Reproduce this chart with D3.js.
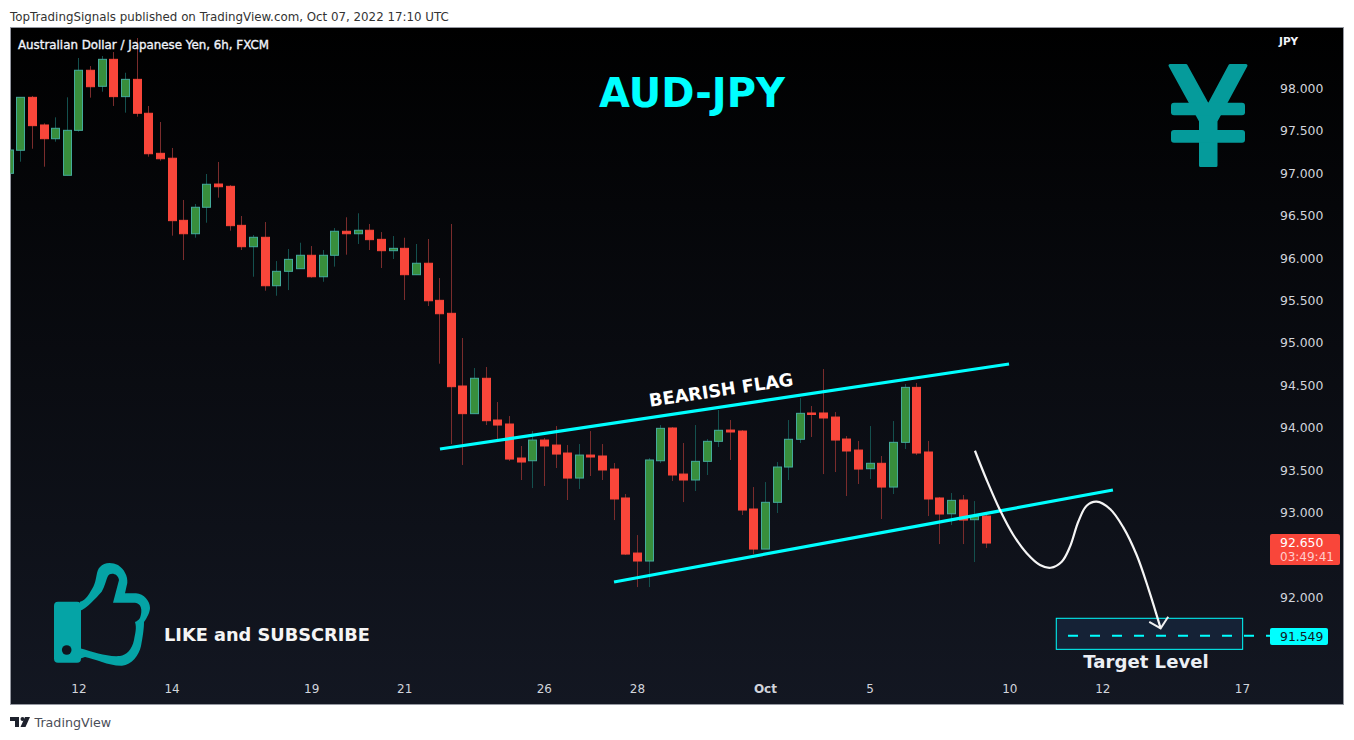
<!DOCTYPE html>
<html><head><meta charset="utf-8">
<style>
html,body{margin:0;padding:0;background:#fff;overflow:hidden}
svg{display:block}
text{font-family:"DejaVu Sans",sans-serif}
</style>
<script src="https://cdn.jsdelivr.net/npm/d3@7/dist/d3.min.js"></script>
</head><body><svg id="c" width="1354" height="740"></svg>
<script>
// candle values, one entry per 6h bar (first bar is index -1)
const opens=[97.000,97.272,97.896,97.570,97.408,96.977,97.507,98.215,98.026,98.344,97.904,98.108,97.708,97.236,97.178,96.446,96.288,96.600,96.874,96.847,96.387,96.135,96.246,95.675,95.845,95.876,96.034,95.781,96.034,96.317,96.288,96.329,96.222,96.088,96.116,95.805,95.940,95.503,95.350,94.493,94.167,94.584,94.092,94.045,93.644,93.612,93.856,93.797,93.703,93.408,93.679,93.668,93.514,93.173,92.524,92.430,93.612,93.998,93.455,93.385,93.605,93.841,93.974,93.962,93.043,92.571,93.122,93.538,93.865,94.175,94.175,94.127,93.868,93.738,93.518,93.582,93.302,93.829,94.477,93.715,93.173,92.987,93.149,92.917,92.960];
const highs=[97.280,97.900,97.912,97.590,97.660,97.896,98.360,98.265,98.383,98.430,98.186,98.595,97.794,97.605,97.299,96.686,96.639,96.992,97.134,96.862,96.497,96.273,96.426,95.966,96.108,96.182,96.143,96.096,96.355,96.482,96.529,96.403,96.308,96.261,96.241,96.167,96.226,95.766,96.403,95.059,94.705,94.717,94.304,94.139,93.786,93.962,93.880,94.021,93.797,93.809,93.962,93.809,93.585,93.220,92.736,93.644,94.033,94.009,93.821,94.033,93.868,94.210,94.092,93.974,93.302,93.361,93.597,94.092,94.351,94.257,94.693,94.186,93.903,93.845,94.021,93.668,94.080,94.516,94.528,93.845,93.184,93.232,93.208,93.137,93.007];
const lows=[97.000,97.137,97.290,97.078,97.373,96.977,97.491,97.892,97.962,97.794,97.715,97.668,97.196,97.149,96.265,95.978,96.241,96.418,96.713,96.324,96.096,95.781,95.616,95.557,95.624,95.876,95.770,95.722,95.900,96.041,96.167,96.096,95.884,95.990,95.507,95.805,95.436,94.756,93.809,93.562,94.167,94.033,93.848,93.609,93.385,93.290,93.314,93.526,93.149,93.279,93.432,93.385,92.913,92.501,92.123,92.123,93.585,93.373,93.125,93.255,93.444,93.774,93.621,92.972,92.512,92.571,92.996,93.385,93.821,93.892,93.455,93.479,93.196,93.338,93.397,92.925,93.220,93.750,93.679,92.960,92.630,92.854,92.630,92.418,92.583];
const closes=[97.275,97.896,97.562,97.408,97.531,97.507,98.215,98.021,98.344,97.904,98.108,97.708,97.231,97.172,96.442,96.288,96.600,96.871,96.842,96.383,96.135,96.246,95.675,95.845,95.986,96.034,95.781,96.034,96.317,96.288,96.329,96.218,96.088,96.116,95.805,95.940,95.498,95.345,94.485,94.167,94.584,94.084,94.033,93.632,93.597,93.856,93.786,93.691,93.408,93.679,93.656,93.503,93.161,92.512,92.430,93.621,93.994,93.444,93.385,93.605,93.841,93.971,93.951,93.031,92.571,93.122,93.538,93.865,94.171,94.163,94.116,93.856,93.727,93.514,93.582,93.302,93.829,94.477,93.703,93.161,92.984,93.145,92.913,92.960,92.642];
const firstIndex=-1;

const priceTicks=[98,97.5,97,96.5,96,95.5,95,94.5,94,93.5,93,92];
const timeTickIndex=[5,13,25,33,45,53,64,73,85,93,105];
const timeTickLabels=["12","14","19","21","26","28","Oct","5","10","12","17"];

// drawings, in bar index and price
const upperIdx=[36.07,84.98], upperPrice=[93.750,94.752];
const lowerIdx=[51.03,93.91], lowerPrice=[92.183,93.267];
const pathIdx=[82.05,83.06,84.20,85.35,86.50,87.64,88.56,89.51,90.22,90.93,91.65,92.51,93.66,94.80,95.95,96.95,98.01];
const pathPrice=[93.730,93.385,93.031,92.737,92.521,92.383,92.351,92.422,92.599,92.893,93.082,93.129,93.043,92.827,92.501,92.108,91.637];
const headIdx=[97.03,98.01,98.66], headPrice=[91.714,91.637,91.773];
const targetPrice=91.549, lastPrice=92.650;
const boxIdx=[89.04,105.06], boxPrice=[91.755,91.389];
const dashStartIdx=90.05;

const svg=d3.select("#c");
const defs=svg.append("defs");
const g=defs.append("linearGradient").attr("id","bg").attr("x1",0).attr("x2",0).attr("y1",0).attr("y2",1);
g.append("stop").attr("offset","0").attr("stop-color","#000000");
g.append("stop").attr("offset","1").attr("stop-color","#131722");
defs.append("clipPath").attr("id","plot").append("rect").attr("x",10.5).attr("y",27.5).attr("width",1333).attr("height",677);

const x=d3.scaleLinear().domain([0,83]).range([20.3,986]);
const y=d3.scaleLinear().domain([92,98]).range([597.5,88.5]);

// header
svg.append("text").attr("x",10).attr("y",21).attr("font-size",11.85).attr("fill","#333").text("TopTradingSignals published on TradingView.com, Oct 07, 2022 17:10 UTC");

svg.append("rect").attr("x",10.5).attr("y",27.5).attr("width",1333).attr("height",677).attr("fill","url(#bg)").attr("stroke","#9598a1");

const plot=svg.append("g").attr("clip-path","url(#plot)");
const bars=d3.range(opens.length).map(i=>({i:i+firstIndex,o:opens[i],h:highs[i],l:lows[i],c:closes[i]}));
const up=d=>d.c>=d.o;
plot.selectAll("line.wick").data(bars).join("line").attr("class","wick")
 .attr("x1",d=>Math.round(x(d.i))+.5).attr("x2",d=>Math.round(x(d.i))+.5)
 .attr("y1",d=>y(d.h)).attr("y2",d=>y(d.l))
 .attr("stroke",d=>up(d)?"#14504e":"#7a2c2c");
plot.selectAll("rect.body").data(bars).join("rect").attr("class","body")
 .attr("x",d=>Math.round(x(d.i))-3.5).attr("width",8)
 .attr("y",d=>y(Math.max(d.o,d.c))).attr("height",d=>Math.max(1.5,Math.abs(y(d.o)-y(d.c))))
 .attr("fill",d=>up(d)?"#388e3c":"#f9463a")
 .attr("stroke",d=>up(d)?"#44ab9b":"#f9463a");

// drawings
const line2=(xs,ps,w)=>plot.append("line").attr("x1",x(xs[0])).attr("y1",y(ps[0])).attr("x2",x(xs[1])).attr("y2",y(ps[1])).attr("stroke","#00ffff").attr("stroke-width",w);
line2(upperIdx,upperPrice,3.2);
line2(lowerIdx,lowerPrice,3.2);

const a=x(upperIdx[1])-x(upperIdx[0]), b=y(upperPrice[1])-y(upperPrice[0]);
const ang=Math.atan2(b,a)*180/Math.PI;
svg.append("text").attr("transform",`translate(722,396) rotate(${ang})`).attr("text-anchor","middle")
 .attr("font-size",17.8).attr("font-weight","bold").attr("fill","#fff").text("BEARISH FLAG");

plot.append("rect").attr("x",x(boxIdx[0])).attr("y",y(boxPrice[0])).attr("width",x(boxIdx[1])-x(boxIdx[0])).attr("height",y(boxPrice[1])-y(boxPrice[0]))
 .attr("fill","#152236").attr("stroke","#00ffff");
plot.append("line").attr("x1",x(dashStartIdx)).attr("x2",1270).attr("y1",y(targetPrice)).attr("y2",y(targetPrice))
 .attr("stroke","#00ffff").attr("stroke-width",2).attr("stroke-dasharray","10 12");

const curve=d3.line().x(d=>x(d[0])).y(d=>y(d[1])).curve(d3.curveCatmullRom.alpha(.5));
plot.append("path").attr("d",curve(pathIdx.map((v,i)=>[v,pathPrice[i]]))).attr("fill","none").attr("stroke","#f5f5f5").attr("stroke-width",2.2);
plot.append("path").attr("d",d3.line().x(d=>x(d[0])).y(d=>y(d[1]))(headIdx.map((v,i)=>[v,headPrice[i]]))).attr("fill","none").attr("stroke","#f0f0f0").attr("stroke-width",2);

svg.append("text").attr("x",1146).attr("y",668).attr("text-anchor","middle").attr("font-size",18.1).attr("font-weight","bold").attr("fill","#eceff4").text("Target Level");
svg.append("text").attr("x",692).attr("y",107).attr("text-anchor","middle").attr("font-size",40).attr("font-weight","bold").attr("fill","#00ffff").text("AUD-JPY");
svg.append("text").attr("x",164).attr("y",640.5).attr("font-size",17.75).attr("font-weight","bold").attr("fill","#f5f5f5").text("LIKE and SUBSCRIBE");
svg.append("text").attr("x",18).attr("y",49).attr("font-size",11.85).attr("fill","#f0f3fa").attr("stroke","#f0f3fa").attr("stroke-width",.35).text("Australian Dollar / Japanese Yen, 6h, FXCM");

// yen icon
const teal="#059b9b";
const yen=svg.append("g").attr("fill",teal);
yen.append("path").attr("stroke",teal).attr("stroke-width",3).attr("stroke-linejoin","round")
 .attr("d","M1170,65.5L1186,65.5L1208.3,106L1230,65.5L1246,65.5L1216,121L1216,165.5L1200.5,165.5L1200.5,121Z");
yen.append("rect").attr("x",1171).attr("y",102.7).attr("width",74).attr("height",12.6).attr("rx",3);
yen.append("rect").attr("x",1171).attr("y",130).attr("width",74).attr("height",12.7).attr("rx",3);

// thumb icon
const thumbColor="#05a4a6";
svg.append("path").attr("fill-rule","evenodd").attr("fill",thumbColor).attr("d",
 "M80,601.7C86,601 90,592 93.3,586.7C97,580 96,570 100,567C104,562 112,562 118,565C124,569 128,576 127.3,583L125,593.3L136,593.3C144,594 150,601 150,608C150,612 147,618 144,622C144,628 143,635 141,646C139,655 132,665 122,665.7C108,666 96,659 85,657L79,659Z"+
 "M80,610.7C86,609 96,598 101.7,591.7C105,586 106,580 108,576C110,572 118,573 119,580L113,602.7L135,602.7C141,603 143,610 140,618C138,621 135,622 135,622C137,628 135,634 134,640C132,650 126,655 120,656C106,657 94,652 80,648.3Z");
svg.append("rect").attr("x",54).attr("y",601.7).attr("width",27).attr("height",61).attr("rx",4).attr("fill",thumbColor);
svg.append("circle").attr("cx",66.7).attr("cy",650).attr("r",4.8).attr("fill","#10141d");

// axes
const yAxis=d3.axisRight(y).tickValues(priceTicks).tickSize(0).tickPadding(0).tickFormat(d3.format(".3f"));
const ya=svg.append("g").attr("transform","translate(1280,0)").call(yAxis);
ya.select(".domain").remove();
ya.selectAll("text").attr("font-size",12.4).attr("fill","#d1d4dc").attr("font-family","'DejaVu Sans',sans-serif");
svg.append("text").attr("x",1279).attr("y",44.5).attr("font-size",10.5).attr("font-weight","bold").attr("fill","#f0f3fa").text("JPY");

const xAxis=d3.axisBottom(x).tickValues(timeTickIndex).tickSize(0).tickPadding(0).tickFormat((d,i)=>timeTickLabels[i]);
const xa=svg.append("g").attr("transform","translate(0,684)").call(xAxis);
xa.select(".domain").remove();
xa.selectAll("text").attr("font-size",12).attr("fill","#d1d4dc").attr("font-family","'DejaVu Sans',sans-serif")
 .attr("font-weight",(d,i)=>timeTickLabels[i]==="Oct"?"bold":"normal");

// price labels
svg.append("rect").attr("x",1270).attr("y",534).attr("width",70).attr("height",31).attr("rx",2).attr("fill","#f9463a");
svg.append("text").attr("x",1280).attr("y",547).attr("font-size",12.4).attr("fill","#fff").text(lastPrice.toFixed(3));
svg.append("text").attr("x",1280).attr("y",561).attr("font-size",12).attr("fill","#fcc").text("03:49:41");
svg.append("rect").attr("x",1270).attr("y",628).attr("width",58).attr("height",17).attr("rx",2).attr("fill","#00ffff");
svg.append("text").attr("x",1280).attr("y",641).attr("font-size",12.4).attr("fill","#131722").text(targetPrice.toFixed(3));

// footer
const logo=svg.append("g").attr("fill","#1e222d");
logo.append("path").attr("d","M10,717H19V727H15V721H10Z");
logo.append("circle").attr("cx",22.5).attr("cy",719).attr("r",2);
logo.append("path").attr("d","M25,717H30L25.5,727H20.5Z");
svg.append("text").attr("x",34.5).attr("y",727).attr("font-size",12.7).attr("fill","#4a4e58").text("TradingView");
</script></body></html>
